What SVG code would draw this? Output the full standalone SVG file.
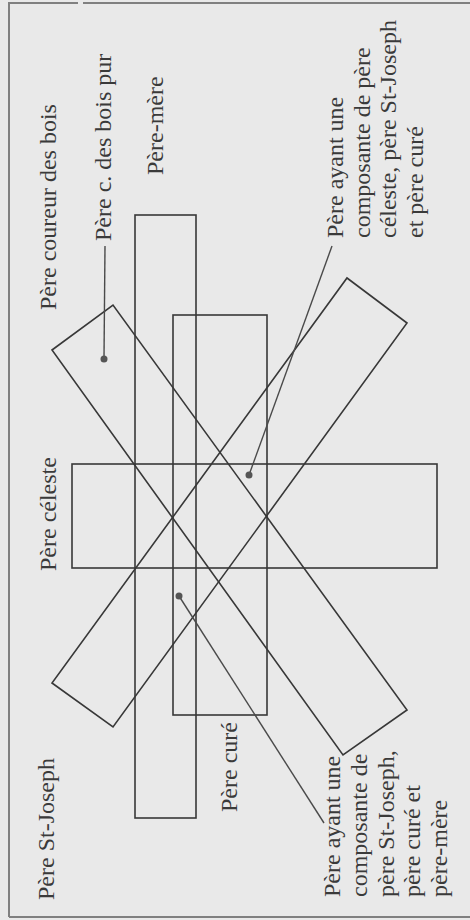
<svg xmlns="http://www.w3.org/2000/svg" width="470" height="920" viewBox="0 0 470 920">
  <style>
    .shape { fill: none; stroke: #383838; stroke-width: 1.6; }
    .lbl { font-family: "Liberation Serif", "Times New Roman", serif; font-size: 24px; fill: #3a3a3a; }
    .lead { stroke: #4a4a4a; stroke-width: 1.4; fill: none; }
    .dot { fill: #555; }
    .frame { stroke: #808080; stroke-width: 2; fill: none; }
  </style>
  <rect x="0" y="0" width="470" height="920" fill="#e9e9e9"/>
  <g id="frame">
    <polyline class="frame" points="9,917 9,3 78,3"/>
    <line class="frame" x1="83" y1="3" x2="470" y2="3"/>
    <line class="frame" x1="9" y1="917" x2="470" y2="917"/>
  </g>

  <g id="pere-coureur-des-bois">
    <polygon class="shape" points="52,350 113,305 407,710 343,755"/>
    <text class="lbl" transform="translate(56,310) rotate(-90)">Père coureur des bois</text>
  </g>

  <g id="pere-st-joseph">
    <polygon class="shape" points="52,683 113,727 407,323 347,278"/>
    <text class="lbl" transform="translate(54,900) rotate(-90)">Père St-Joseph</text>
  </g>

  <g id="pere-celeste">
    <rect class="shape" x="72" y="464" width="365" height="104"/>
    <text class="lbl" transform="translate(56,571) rotate(-90)">Père céleste</text>
  </g>

  <g id="pere-mere">
    <rect class="shape" x="135" y="215" width="61" height="603"/>
    <text class="lbl" transform="translate(163,175) rotate(-90)">Père-mère</text>
  </g>

  <g id="pere-cure">
    <rect class="shape" x="173" y="315" width="94" height="400"/>
    <text class="lbl" transform="translate(237,812) rotate(-90)">Père curé</text>
  </g>

  <g id="pere-cdb-pur">
    <text class="lbl" transform="translate(111,241) rotate(-90)">Père c. des bois pur</text>
  </g>

  <g id="composante-celeste-stjoseph-cure">
    <text class="lbl" transform="translate(343,238) rotate(-90)"><tspan x="0" y="0">Père ayant une</tspan><tspan x="0" dy="26.7">composante de père</tspan><tspan x="0" dy="26.7">céleste, père St-Joseph</tspan><tspan x="0" dy="26.7">et père curé</tspan></text>
  </g>

  <g id="composante-stjoseph-cure-mere">
    <text class="lbl" transform="translate(340,897) rotate(-90)"><tspan x="0" y="0">Père ayant une</tspan><tspan x="0" dy="26.8">composante de</tspan><tspan x="0" dy="26.8">père St-Joseph,</tspan><tspan x="0" dy="26.8">père curé et</tspan><tspan x="0" dy="26.8">père-mère</tspan></text>
  </g>

  <g id="connectors">
    <line class="lead" x1="105" y1="246" x2="104" y2="359"/>
    <circle class="dot" cx="104" cy="359" r="3.5"/>
    <line class="lead" x1="332" y1="246" x2="249" y2="475"/>
    <circle class="dot" cx="249" cy="475" r="3.5"/>
    <line class="lead" x1="179" y1="596" x2="324" y2="823"/>
    <circle class="dot" cx="179" cy="596" r="3.5"/>
  </g>
</svg>
